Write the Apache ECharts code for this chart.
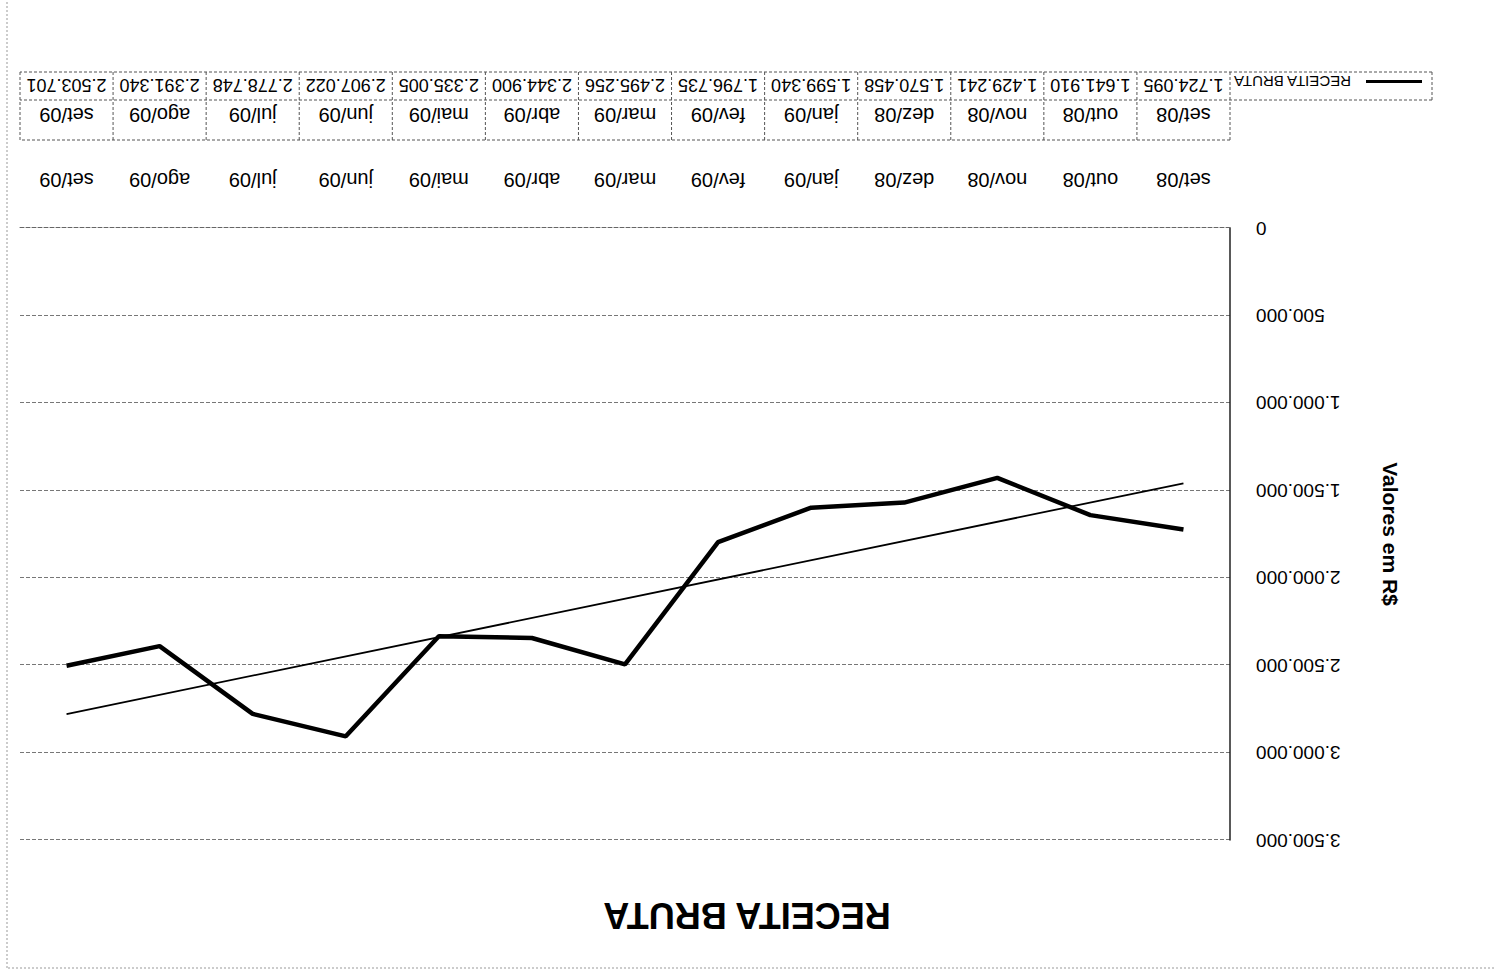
<!DOCTYPE html>
<html>
<head>
<meta charset="utf-8">
<script src="https://cdn.jsdelivr.net/npm/echarts@6/dist/echarts.min.js"></script>
<style>
  html, body { margin: 0; padding: 0; background: #fff; overflow: hidden; }
  #chart { width: 1494px; height: 976px; transform: rotate(180deg); transform-origin: 50% 50%; }
</style>
</head>
<body>
<div id="chart"></div>
<script>
// ---- data ----
const categories = ['set/08','out/08','nov/08','dez/08','jan/09','fev/09','mar/09','abr/09','mai/09','jun/09','jul/09','ago/09','set/09'];
const receitaBruta = [1724095, 1641910, 1429241, 1570458, 1599340, 1796735, 2495256, 2344900, 2335005, 2907022, 2778748, 2391340, 2503701];
const trendEnds = [1460000, 2780000]; // linear trendline, first and last category
const yTicks = [0, 500000, 1000000, 1500000, 2000000, 2500000, 3000000, 3500000];
const seriesName = 'RECEITA BRUTA';
const titleText = 'RECEITA BRUTA';
const yAxisName = 'Valores em R$';

// ---- layout ----
const W = 1494, H = 976;
const plotLeft = 264, plotRight = 1474, plotTop = 136, plotBottom = 748;
const rowCatTop = 836, rowValTop = 876, rowValBottom = 904;
const legendLeft = 62;
const FONT = '"Liberation Sans", Arial, sans-serif';

function fmt(v) { return String(v).replace(/\B(?=(\d{3})+(?!\d))/g, '.'); }

const trendData = categories.map((c, i) => i === 0 ? trendEnds[0] : (i === categories.length - 1 ? trendEnds[1] : null));

const chart = echarts.init(document.getElementById('chart'), null, { renderer: 'svg', width: W, height: H });

// table lines
const n = categories.length;
const cellW = (plotRight - plotLeft) / n;
const lineStyle = { stroke: '#555', lineWidth: 1, lineDash: [3, 2] };
const graphics = [];
function hline(x1, x2, y) { graphics.push({ type: 'line', shape: { x1, y1: y, x2, y2: y }, style: lineStyle, silent: true }); }
function vline(x, y1, y2) { graphics.push({ type: 'line', shape: { x1: x, y1, x2: x, y2 }, style: lineStyle, silent: true }); }
hline(plotLeft, plotRight, rowCatTop);
hline(legendLeft, plotRight, rowValTop);
hline(legendLeft, plotRight, rowValBottom);
for (let i = 0; i <= n; i++) vline(plotLeft + i * cellW, rowCatTop, rowValBottom);
vline(legendLeft, rowValTop, rowValBottom);
// outer chart border (top & right visible)
graphics.push({ type: 'line', shape: { x1: 0, y1: 8, x2: 1487, y2: 8 }, style: { stroke: '#999', lineWidth: 1, lineDash: [2, 2] }, silent: true });
graphics.push({ type: 'line', shape: { x1: 1487, y1: 8, x2: 1487, y2: 976 }, style: { stroke: '#999', lineWidth: 1, lineDash: [2, 2] }, silent: true });

const option = {
  backgroundColor: '#fff',
  animation: false,
  title: {
    text: titleText, left: 'center', top: 38,
    textStyle: { fontFamily: FONT, fontSize: 36, fontWeight: 'bold', color: '#000' }
  },
  legend: {
    data: [{ name: seriesName, icon: 'rect' }],
    left: 67, top: 882,
    itemWidth: 56, itemHeight: 3,
    textStyle: { fontFamily: FONT, fontSize: 15, color: '#000', padding: [0, 0, 0, 10] },
    selectedMode: false
  },
  grid: { left: plotLeft, right: W - plotRight, top: plotTop, bottom: H - plotBottom, containLabel: false },
  xAxis: [
    {
      type: 'category', data: categories, position: 'bottom',
      axisLine: { show: true, lineStyle: { color: '#666', width: 1, type: [4, 2] } },
      axisTick: { show: false },
      axisLabel: { interval: 0, fontFamily: FONT, fontSize: 20, color: '#000', margin: 38 },
      splitLine: { show: false }
    },
    {
      type: 'category', data: categories, position: 'bottom', offset: 0,
      axisLine: { show: false }, axisTick: { show: false },
      axisLabel: { interval: 0, fontFamily: FONT, fontSize: 20, color: '#000', margin: 103 },
      splitLine: { show: false }
    },
    {
      type: 'category', data: categories, position: 'bottom', offset: 0,
      axisLine: { show: false }, axisTick: { show: false },
      axisLabel: {
        interval: 0, hideOverlap: false,
        fontFamily: FONT, fontSize: 18, color: '#000', margin: 134,
        formatter: (v, i) => fmt(receitaBruta[i])
      },
      splitLine: { show: false }
    }
  ],
  yAxis: {
    type: 'value', min: yTicks[0], max: yTicks[yTicks.length - 1], interval: yTicks[1] - yTicks[0],
    name: yAxisName, nameLocation: 'middle', nameGap: 150, nameRotate: 90,
    nameTextStyle: { fontFamily: FONT, fontSize: 21, fontWeight: 'bold', color: '#000' },
    axisLine: { show: true, lineStyle: { color: '#222', width: 1.5 } },
    axisTick: { show: false },
    axisLabel: { fontFamily: FONT, fontSize: 19, color: '#000', margin: 26, formatter: v => fmt(v) },
    splitLine: { show: true, lineStyle: { color: '#777', width: 1, type: [4, 2] } }
  },
  series: [
    {
      name: seriesName, type: 'line', data: receitaBruta, xAxisIndex: 0,
      showSymbol: false, symbol: 'none',
      lineStyle: { color: '#000', width: 4.5 }, itemStyle: { color: '#000' }
    },
    {
      name: 'Linear (RECEITA BRUTA)', type: 'line', data: trendData, xAxisIndex: 0,
      connectNulls: true, showSymbol: false, symbol: 'none',
      lineStyle: { color: '#000', width: 1.8 }, itemStyle: { color: '#000' }
    }
  ],
  graphic: graphics
};
chart.setOption(option);
</script>
</body>
</html>
